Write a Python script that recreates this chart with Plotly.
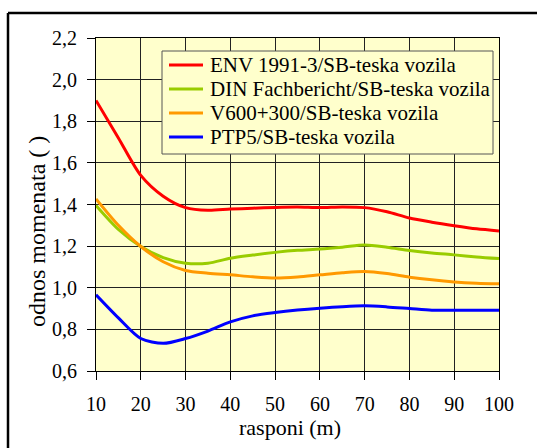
import plotly.graph_objects as go

# spans (m)
raspon = [10, 15, 20, 25, 30, 35, 40, 45, 50, 55, 60, 65, 70, 75, 80, 85, 90, 95, 100]

env = [1.90, 1.72, 1.54, 1.44, 1.385, 1.372, 1.378, 1.382, 1.386, 1.388, 1.385, 1.388, 1.385, 1.365, 1.335, 1.315, 1.298, 1.283, 1.273]
din = [1.395, 1.28, 1.198, 1.145, 1.118, 1.118, 1.142, 1.157, 1.17, 1.18, 1.186, 1.195, 1.206, 1.195, 1.179, 1.167, 1.158, 1.148, 1.14]
v600 = [1.427, 1.30, 1.198, 1.125, 1.083, 1.07, 1.062, 1.053, 1.047, 1.052, 1.062, 1.072, 1.078, 1.068, 1.051, 1.038, 1.028, 1.022, 1.019]
ptp5 = [0.966, 0.855, 0.756, 0.733, 0.756, 0.792, 0.836, 0.865, 0.881, 0.893, 0.902, 0.909, 0.913, 0.908, 0.900, 0.892, 0.892, 0.892, 0.892]

names = [
    "ENV 1991-3/SB-teska vozila",
    "DIN Fachbericht/SB-teska vozila",
    "V600+300/SB-teska vozila",
    "PTP5/SB-teska vozila",
]
colors = ["#FF0000", "#99CC00", "#FF9900", "#0000FF"]

x_title = "rasponi (m)"
y_title = "odnos momenata ( )"

FONT = "Liberation Serif"

# plot area in pixels (used to place the hand-drawn legend, titles and frame)
L, R, T, B = 96, 38, 38, 77
W, H = 537, 448
PW, PH = W - L - R, H - T - B


def px(x):
    return (x - L) / PW


def py(y):
    return (H - B - y) / PH


fig = go.Figure()
for name, vals, color in zip(names, [env, din, v600, ptp5], colors):
    fig.add_trace(
        go.Scatter(
            x=raspon,
            y=vals,
            mode="lines",
            name=name,
            line=dict(color=color, width=3, shape="spline", smoothing=0.8),
            showlegend=False,
        )
    )

axis_common = dict(
    showline=True,
    linecolor="black",
    linewidth=1,
    mirror=True,
    showgrid=True,
    gridcolor="#222222",
    gridwidth=1,
    ticks="outside",
    ticklen=8,
    tickcolor="black",
    zeroline=False,
    tickfont=dict(family=FONT, size=20, color="black"),
)

# legend box, frame edges (kept inside the canvas so no scrollbars appear)
shapes = [
    dict(type="rect", xref="paper", yref="paper",
         x0=px(162), x1=px(493), y0=py(154), y1=py(51),
         line=dict(color="#555555", width=1), fillcolor="#FFFFCC", layer="above"),
    dict(type="line", xref="paper", yref="paper",
         x0=px(8), x1=px(8), y0=py(13), y1=py(H),
         line=dict(color="black", width=2.5)),
    dict(type="line", xref="paper", yref="paper",
         x0=px(8), x1=px(W), y0=py(13), y1=py(13),
         line=dict(color="black", width=2.5)),
]
annotations = [
    dict(xref="paper", yref="paper", x=px(290), y=py(427),
         xanchor="center", yanchor="middle", showarrow=False,
         text=x_title, font=dict(family=FONT, size=22, color="black")),
    dict(xref="paper", yref="paper", x=px(37), y=py(232),
         xanchor="center", yanchor="middle", showarrow=False, textangle=-90,
         text=y_title, font=dict(family=FONT, size=24, color="black")),
]
for i, (name, color) in enumerate(zip(names, colors)):
    yc = 65 + 24 * i
    shapes.append(dict(type="line", xref="paper", yref="paper",
                       x0=px(169), x1=px(203), y0=py(yc), y1=py(yc),
                       line=dict(color=color, width=3), layer="above"))
    annotations.append(dict(xref="paper", yref="paper", x=px(208), y=py(yc),
                            xanchor="left", yanchor="middle", showarrow=False,
                            text=name, font=dict(family=FONT, size=21, color="black")))

fig.update_layout(
    width=W,
    height=H,
    paper_bgcolor="white",
    plot_bgcolor="#FFFFCC",
    margin=dict(l=L, r=R, t=T, b=B),
    font=dict(family=FONT, color="black"),
    xaxis=dict(range=[10, 100], dtick=10, ticklabelstandoff=7, **axis_common),
    yaxis=dict(range=[0.6, 2.2], dtick=0.2, tickformat=".1f",
               ticklabelstandoff=6, **axis_common),
    separators=", ",
    showlegend=False,
    shapes=shapes,
    annotations=annotations,
)

fig.write_html("out.html", config={"displayModeBar": False},
               post_script="document.body.style.margin='0';")
